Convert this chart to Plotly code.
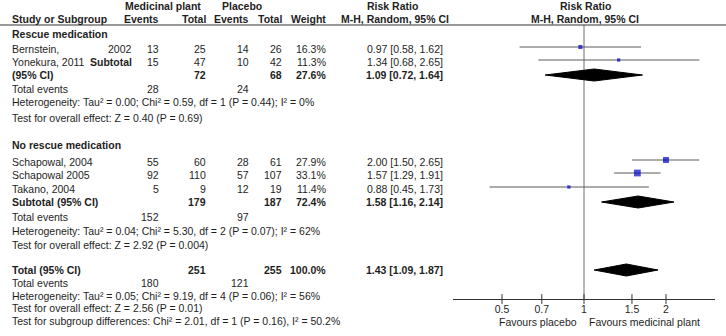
import plotly.graph_objects as go

# ---------------- data ----------------
group_names = ["Rescue medication", "No rescue medication"]

study_names = ["Bernstein,", "Yonekura, 2011", "Schapowal, 2004", "Schapowal 2005", "Takano, 2004"]
study_suffix = ["2002", "<b>Subtotal</b>", "", "", ""]
ev_plant = [13, 15, 55, 92, 5]
tot_plant = [25, 47, 60, 110, 9]
ev_placebo = [14, 10, 28, 57, 12]
tot_placebo = [26, 42, 61, 107, 19]
weight = [16.3, 11.3, 27.9, 33.1, 11.4]
rr = [0.97, 1.34, 2.00, 1.57, 0.88]
rr_lo = [0.58, 0.68, 1.50, 1.29, 0.45]
rr_hi = [1.62, 2.65, 2.65, 1.91, 1.73]

sub_labels = ["(95% CI)", "Subtotal (95% CI)"]
sub_tot_plant = [72, 179]
sub_tot_placebo = [68, 187]
sub_weight = [27.6, 72.4]
sub_rr = [1.09, 1.58]
sub_lo = [0.72, 1.16]
sub_hi = [1.64, 2.14]
sub_ev_plant = [28, 152]
sub_ev_placebo = [24, 97]
sub_het = ["Heterogeneity: Tau² = 0.00; Chi² = 0.59, df = 1 (P = 0.44); I² = 0%",
           "Heterogeneity: Tau² = 0.04; Chi² = 5.30, df = 2 (P = 0.07); I² = 62%"]
sub_test = ["Test for overall effect: Z = 0.40 (P = 0.69)",
            "Test for overall effect: Z = 2.92 (P = 0.004)"]

total_label = "Total (95% CI)"
total_tot_plant = 251
total_tot_placebo = 255
total_weight = 100.0
total_rr = 1.43
total_lo = 1.09
total_hi = 1.87
total_ev_plant = 180
total_ev_placebo = 121
total_het = "Heterogeneity: Tau² = 0.05; Chi² = 9.19, df = 4 (P = 0.06); I² = 56%"
total_test = "Test for overall effect: Z = 2.56 (P = 0.01)"
subgroup_test = "Test for subgroup differences: Chi² = 2.01, df = 1 (P = 0.16), I² = 50.2%"

tick_vals = [0.5, 0.7, 1, 1.5, 2]
tick_labels = ["0.5", "0.7", "1", "1.5", "2"]
favours = ["Favours placebo", "Favours medicinal plant"]

# ---------------- layout positions (pixel-like row / column grid) ----------------
W, H = 726, 336
FONT = "Liberation Sans, Arial, sans-serif"
FS = 10.5
TXT = "#1e1e1e"

group_y = [34, 145]
study_y = [49, 62, 162, 175, 189]
sub_y = [75, 202]
sub_ev_y = [89, 217]
sub_het_y = [102, 231]
sub_test_y = [118, 245]
total_y, total_ev_y, total_het_y, total_test_y, subgroup_y = 270, 283, 296, 308, 321
mark_shift = -2  # forest marks sit slightly above text centre

x_label = 11
x_suffix = 133
x_ev_plant = 160
x_tot_plant = 207
x_ev_placebo = 250
x_tot_placebo = 283
x_weight = 327
x_rr = 444
axis_y = 299
rule_y = 25

annotations = []


def txt(x, y, s, anchor="left", bold=False, xref="x"):
    annotations.append(dict(
        x=x, y=y, xref=xref, yref="y", text=("<b>%s</b>" % s) if bold else s,
        showarrow=False, xanchor=anchor, yanchor="middle",
        font=dict(family=FONT, size=FS, color=TXT), borderpad=0))


def fmt_rr(a, b, c):
    return "%.2f [%.2f, %.2f]" % (a, b, c)


# headers
txt(163, 6, "Medicinal plant", "center", True)
txt(242, 6, "Placebo", "center", True)
txt(392, 6, "Risk Ratio", "center", True)
txt(585, 6, "Risk Ratio", "center", True)
txt(x_label, 19, "Study or Subgroup", "left", True)
txt(x_ev_plant, 19, "Events", "right", True)
txt(x_tot_plant, 19, "Total", "right", True)
txt(x_ev_placebo, 19, "Events", "right", True)
txt(x_tot_placebo, 19, "Total", "right", True)
txt(x_weight, 19, "Weight", "right", True)
txt(395, 19, "M-H, Random, 95% CI", "center", True)
txt(585, 19, "M-H, Random, 95% CI", "center", True)

for gi, g in enumerate(group_names):
    txt(x_label, group_y[gi], g, "left", True)

for i, name in enumerate(study_names):
    y = study_y[i]
    txt(x_label, y, name)
    if study_suffix[i]:
        txt(x_suffix, y, study_suffix[i], "right")
    txt(x_ev_plant, y, str(ev_plant[i]), "right")
    txt(x_tot_plant, y, str(tot_plant[i]), "right")
    txt(x_ev_placebo, y, str(ev_placebo[i]), "right")
    txt(x_tot_placebo, y, str(tot_placebo[i]), "right")
    txt(x_weight, y, "%.1f%%" % weight[i], "right")
    txt(x_rr, y, fmt_rr(rr[i], rr_lo[i], rr_hi[i]), "right")

for k in range(2):
    y = sub_y[k]
    txt(x_label, y, sub_labels[k], "left", True)
    txt(x_tot_plant, y, str(sub_tot_plant[k]), "right", True)
    txt(x_tot_placebo, y, str(sub_tot_placebo[k]), "right", True)
    txt(x_weight, y, "%.1f%%" % sub_weight[k], "right", True)
    txt(x_rr, y, fmt_rr(sub_rr[k], sub_lo[k], sub_hi[k]), "right", True)
    txt(x_label, sub_ev_y[k], "Total events")
    txt(x_ev_plant, sub_ev_y[k], str(sub_ev_plant[k]), "right")
    txt(x_ev_placebo, sub_ev_y[k], str(sub_ev_placebo[k]), "right")
    txt(x_label, sub_het_y[k], sub_het[k])
    txt(x_label, sub_test_y[k], sub_test[k])

txt(x_label, total_y, total_label, "left", True)
txt(x_tot_plant, total_y, str(total_tot_plant), "right", True)
txt(x_tot_placebo, total_y, str(total_tot_placebo), "right", True)
txt(x_weight, total_y, "%.1f%%" % total_weight, "right", True)
txt(x_rr, total_y, fmt_rr(total_rr, total_lo, total_hi), "right", True)
txt(x_label, total_ev_y, "Total events")
txt(x_ev_plant, total_ev_y, str(total_ev_plant), "right")
txt(x_ev_placebo, total_ev_y, str(total_ev_placebo), "right")
txt(x_label, total_het_y, total_het)
txt(x_label, total_test_y, total_test)
txt(x_label, subgroup_y, subgroup_test)

txt(538, 322, favours[0], "center")
txt(644, 322, favours[1], "center")

# ---------------- forest traces ----------------
fig = go.Figure()

# line of no effect
fig.add_trace(go.Scatter(x=[1, 1], y=[rule_y, axis_y], mode="lines", xaxis="x2", yaxis="y",
                         line=dict(color="#6e6e6e", width=1), hoverinfo="skip"))

# CI lines
for i in range(len(rr)):
    yy = study_y[i] + mark_shift
    fig.add_trace(go.Scatter(x=[rr_lo[i], rr_hi[i]], y=[yy, yy], mode="lines", xaxis="x2", yaxis="y",
                             line=dict(color="#5a5a5a", width=1), hoverinfo="skip"))

# squares
fig.add_trace(go.Scatter(
    x=rr, y=[v + mark_shift for v in study_y], mode="markers", xaxis="x2", yaxis="y",
    marker=dict(symbol="square", color="#0000CC", size=[1.5 + 0.16 * w for w in weight],
                line=dict(width=0))))

# diamonds
half_h = 6
for (c, lo, hi, y) in list(zip(sub_rr, sub_lo, sub_hi, sub_y)) + [(total_rr, total_lo, total_hi, total_y)]:
    fig.add_trace(go.Scatter(
        x=[lo, c, hi, c, lo], y=[y, y - half_h, y, y + half_h, y], mode="lines", fill="toself",
        xaxis="x2", yaxis="y", fillcolor="#000000", line=dict(color="#000000", width=1),
        hoverinfo="skip"))

# tick marks crossing the axis line
fig.add_trace(go.Scatter(
    x=tick_vals, y=[axis_y] * len(tick_vals), mode="markers", xaxis="x2", yaxis="y",
    marker=dict(symbol="line-ns-open", size=7, color="#333333", line=dict(width=1, color="#333333")),
    hoverinfo="skip"))

# header rule
shapes = [dict(type="line", xref="paper", yref="y", x0=0, x1=1, y0=rule_y, y1=rule_y,
               line=dict(color="#333333", width=1))]

fig.update_layout(
    width=W, height=H, margin=dict(l=0, r=0, t=0, b=0),
    paper_bgcolor="white", plot_bgcolor="white", showlegend=False,
    xaxis=dict(range=[0, W], domain=[0, 1], visible=False, fixedrange=True),
    yaxis=dict(range=[H, 0], domain=[0, 1], visible=False, fixedrange=True),
    xaxis2=dict(type="log", range=[-0.481, 0.481], domain=[453 / W, 715 / W],
                anchor="free", position=1 - axis_y / H, showline=True, linecolor="#333333",
                linewidth=1, ticks="", tickvals=tick_vals, ticktext=tick_labels,
                tickfont=dict(family=FONT, size=FS, color=TXT), showgrid=False,
                zeroline=False, fixedrange=True),
    annotations=annotations, shapes=shapes,
)

fig.write_html("out.html", config={"displayModeBar": False},
               post_script="document.body.style.margin='0';document.body.style.overflow='hidden';")
